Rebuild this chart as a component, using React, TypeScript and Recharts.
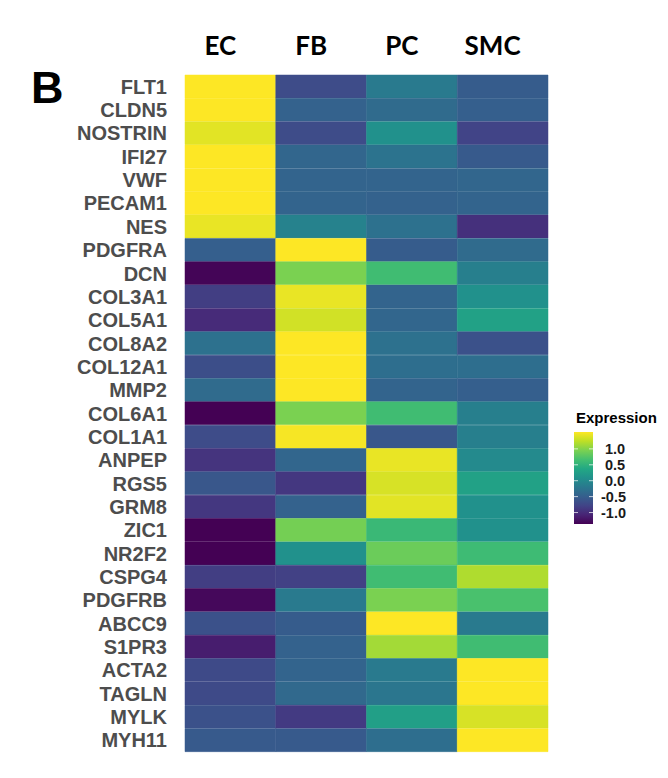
import { BarChart, Bar, XAxis, YAxis, Cell } from 'recharts';

const genes = [
  'FLT1', 'CLDN5', 'NOSTRIN', 'IFI27', 'VWF', 'PECAM1', 'NES', 'PDGFRA', 'DCN', 'COL3A1',
  'COL5A1', 'COL8A2', 'COL12A1', 'MMP2', 'COL6A1', 'COL1A1', 'ANPEP', 'RGS5', 'GRM8', 'ZIC1',
  'NR2F2', 'CSPG4', 'PDGFRB', 'ABCC9', 'S1PR3', 'ACTA2', 'TAGLN', 'MYLK', 'MYH11',
];

const cellTypes = ['EC', 'FB', 'PC', 'SMC'];

const ecValues = [1.53, 1.53, 1.41, 1.53, 1.53, 1.53, 1.44, -0.49, -1.33, -0.84, -1.01, -0.29, -0.67, -0.35, -1.36, -0.7, -0.93, -0.58, -0.9, -1.36, -1.36, -0.84, -1.3, -0.64, -1.13, -0.72, -0.72, -0.64, -0.55];
const fbValues = [-0.7, -0.46, -0.7, -0.41, -0.43, -0.43, -0.09, 1.53, 0.95, 1.44, 1.33, 1.53, 1.53, 1.53, 0.95, 1.5, -0.41, -0.9, -0.46, 0.92, 0.09, -0.81, -0.18, -0.52, -0.46, -0.43, -0.38, -0.87, -0.55];
const pcValues = [-0.18, -0.35, 0.09, -0.26, -0.43, -0.46, -0.29, -0.52, 0.63, -0.43, -0.41, -0.29, -0.32, -0.43, 0.63, -0.58, 1.44, 1.36, 1.41, 0.58, 0.87, 0.63, 0.95, 1.53, 1.13, -0.18, -0.23, 0.26, -0.32];
const smcValues = [-0.52, -0.49, -0.78, -0.55, -0.41, -0.43, -0.96, -0.35, -0.12, 0.09, 0.29, -0.64, -0.32, -0.49, -0.12, -0.12, 0.0, 0.29, 0.09, 0.09, 0.61, 1.18, 0.69, -0.18, 0.63, 1.53, 1.53, 1.36, 1.53];

const legendTicks = [1.0, 0.5, 0.0, -0.5, -1.0];
const colorMin = -1.36;
const colorMax = 1.53;

const viridisStops = ['#440154', '#482475', '#414487', '#355f8d', '#2a788e', '#21918c', '#22a884', '#44bf70', '#7ad151', '#bddf26', '#fde725'];

const hexToRgb = (h: string) => [1, 3, 5].map((i) => parseInt(h.slice(i, i + 2), 16));

const viridis = (v: number) => {
  const t = Math.min(1, Math.max(0, (v - colorMin) / (colorMax - colorMin)));
  const pos = t * (viridisStops.length - 1);
  const i = Math.min(viridisStops.length - 2, Math.floor(pos));
  const f = pos - i;
  const a = hexToRgb(viridisStops[i]);
  const b = hexToRgb(viridisStops[i + 1]);
  const c = a.map((x, k) => Math.round(x + (b[k] - x) * f));
  return `rgb(${c[0]},${c[1]},${c[2]})`;
};

const columns: Record<string, number[]> = { EC: ecValues, FB: fbValues, PC: pcValues, SMC: smcValues };

const rows = genes.map((gene, i) => ({
  gene,
  unit: 1,
  EC: ecValues[i],
  FB: fbValues[i],
  PC: pcValues[i],
  SMC: smcValues[i],
}));

const HeaderTick = (props: any) => {
  const { x, y, payload } = props;
  return (
    <text x={x - 10} y={y} textAnchor="middle" fontFamily="Lato, sans-serif" fontWeight={700} fontSize={26} fill="#000">
      {cellTypes[Math.floor(payload.value)]}
    </text>
  );
};

// colour bar geometry
const barX = 574;
const barTop = 432;
const barH = 92;
const barW = 19;
const valueToY = (v: number) => barTop + barH - ((v - colorMin) / (colorMax - colorMin)) * barH;

export default function App() {
  return (
    <div style={{ position: 'absolute', left: 0, top: 0, width: 668, height: 778, background: '#fff' }}>
      <BarChart
        layout="vertical"
        width={668}
        height={778}
        data={rows}
        margin={{ top: 35, right: 120, bottom: 26, left: 0 }}
        barCategoryGap={0}
        barGap={0}
      >
        <XAxis
          type="number"
          orientation="top"
          domain={[0, 4]}
          ticks={[0.5, 1.5, 2.5, 3.5]}
          height={40}
          axisLine={false}
          tickLine={false}
          tickSize={0}
          tickMargin={20}
          tick={<HeaderTick />}
        />
        <YAxis
          type="category"
          dataKey="gene"
          width={185}
          interval={0}
          axisLine={false}
          tickLine={false}
          tickSize={0}
          tickMargin={18}
          tick={{ fill: '#4d4d4d', fontSize: 20, fontWeight: 700, fontFamily: 'Liberation Sans, Arial, sans-serif' }}
        />
        {cellTypes.map((ct) => (
          <Bar key={ct} dataKey="unit" stackId="heat" isAnimationActive={false}>
            {columns[ct].map((v, j) => (
              <Cell key={`${ct}-${j}`} fill={viridis(v)} stroke={viridis(v)} strokeWidth={0.5} />
            ))}
          </Bar>
        ))}
      </BarChart>

      <svg width={668} height={778} style={{ position: 'absolute', left: 0, top: 0, pointerEvents: 'none' }}>
        <defs>
          <linearGradient id="viridisGrad" x1="0" y1="1" x2="0" y2="0">
            {viridisStops.map((c, i) => (
              <stop key={c} offset={`${(i / (viridisStops.length - 1)) * 100}%`} stopColor={c} />
            ))}
          </linearGradient>
        </defs>
        <text x={31} y={103} fontFamily="Liberation Sans, Arial, sans-serif" fontWeight={700} fontSize={45} fill="#000">
          B
        </text>
        <text x={576} y={423} fontFamily="Liberation Sans, Arial, sans-serif" fontWeight={700} fontSize={15} fill="#000">
          Expression
        </text>
        <rect x={barX} y={barTop} width={barW} height={barH} fill="url(#viridisGrad)" />
        {legendTicks.map((t) => (
          <g key={t}>
            <line x1={barX} x2={barX + 4} y1={valueToY(t)} y2={valueToY(t)} stroke="#fff" strokeOpacity={0.7} />
            <line x1={barX + barW - 4} x2={barX + barW} y1={valueToY(t)} y2={valueToY(t)} stroke="#fff" strokeOpacity={0.7} />
            <text
              x={t < 0 ? 601 : 605}
              y={valueToY(t) + 5}
              fontFamily="Liberation Sans, Arial, sans-serif"
              fontWeight={700}
              fontSize={14.5}
              fill="#1a1a1a"
            >
              {t.toFixed(1)}
            </text>
          </g>
        ))}
      </svg>
    </div>
  );
}
